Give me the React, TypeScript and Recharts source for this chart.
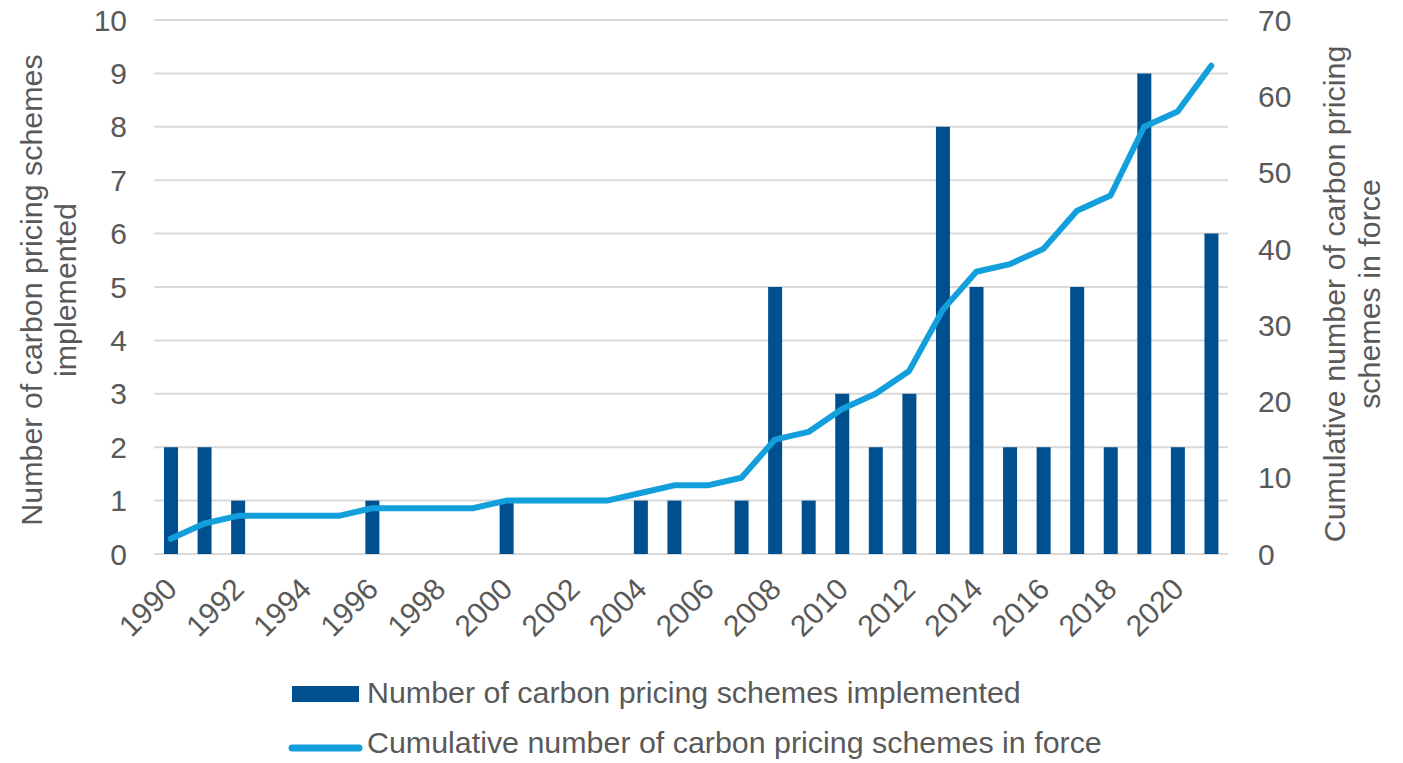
import React from 'react';
import { ComposedChart, Bar, Line, XAxis, YAxis, CartesianGrid } from 'recharts';

// Years on the category axis
const years = [
  '1990', '1991', '1992', '1993', '1994', '1995', '1996', '1997',
  '1998', '1999', '2000', '2001', '2002', '2003', '2004', '2005',
  '2006', '2007', '2008', '2009', '2010', '2011', '2012', '2013',
  '2014', '2015', '2016', '2017', '2018', '2019', '2020', '2021',
];

// Number of carbon pricing schemes implemented each year (left axis)
const schemesImplemented = [
  2, 2, 1, 0, 0, 0, 1, 0,
  0, 0, 1, 0, 0, 0, 1, 1,
  0, 1, 5, 1, 3, 2, 3, 8,
  5, 2, 2, 5, 2, 9, 2, 6,
];

// Cumulative number of carbon pricing schemes in force (right axis)
const schemesInForce = [
  2, 4, 5, 5, 5, 5, 6, 6,
  6, 6, 7, 7, 7, 7, 8, 9,
  9, 10, 15, 16, 19, 21, 24, 32,
  37, 38, 40, 45, 47, 56, 58, 64,
];

const leftTicks = [0, 1, 2, 3, 4, 5, 6, 7, 8, 9, 10];
const rightTicks = [0, 10, 20, 30, 40, 50, 60, 70];

const leftTitle = ['Number of carbon pricing schemes', 'implemented'];
const rightTitle = ['Cumulative number of carbon pricing', 'schemes in force'];
const barLegend = 'Number of carbon pricing schemes implemented';
const lineLegend = 'Cumulative number of carbon pricing schemes in force';

const data = years.map((year, i) => ({
  year,
  implemented: schemesImplemented[i],
  inForce: schemesInForce[i],
}));

const WIDTH = 1403;
const HEIGHT = 763;
const FONT = '"Liberation Sans", Arial, Helvetica, sans-serif';
const TEXT = '#595959';
const BAR = '#00508F';
const LINE = '#139FDB';
const GRID = '#D9D9D9';
const FONT_SIZE = 30;
const LABEL_SIZE = 30.4;

const tickStyle = { fill: TEXT, fontSize: FONT_SIZE, fontFamily: FONT };

function YearTick(props: any) {
  const { x, y, payload } = props;
  return (
    <g transform={`translate(${x + 8},${y + 37}) rotate(-45)`}>
      <text x={0} y={0} textAnchor="end" fill={TEXT} fontSize={FONT_SIZE} fontFamily={FONT}>
        {payload.value}
      </text>
    </g>
  );
}

function Overlay() {
  return (
    <svg
      width={WIDTH}
      height={HEIGHT}
      style={{ position: 'absolute', left: 0, top: 0, pointerEvents: 'none' }}
    >
      <g fontFamily={FONT} fontSize={LABEL_SIZE} fill={TEXT}>
        {/* left axis title */}
        <text transform="translate(42,290) rotate(-90)" textAnchor="middle">
          <tspan x={0} y={0}>{leftTitle[0]}</tspan>
          <tspan x={0} y={34}>{leftTitle[1]}</tspan>
        </text>
        {/* right axis title */}
        <text transform="translate(1345,294) rotate(-90)" textAnchor="middle">
          <tspan x={0} y={0}>{rightTitle[0]}</tspan>
          <tspan x={0} y={35}>{rightTitle[1]}</tspan>
        </text>
        {/* legend */}
        <rect x={292} y={686} width={67} height={16} fill={BAR} />
        <text x={367} y={703}>{barLegend}</text>
        <line x1={292} y1={748} x2={359} y2={748} stroke={LINE} strokeWidth={7} strokeLinecap="round" />
        <text x={367} y={753}>{lineLegend}</text>
      </g>
    </svg>
  );
}

export default function App() {
  return (
    <div style={{ position: 'absolute', left: 0, top: 0, width: WIDTH, height: HEIGHT, background: '#fff' }}>
      <ComposedChart
        width={WIDTH}
        height={HEIGHT}
        data={data}
        margin={{ top: 20, right: 0, bottom: 0, left: 0 }}
      >
        <CartesianGrid yAxisId="left" vertical={false} stroke={GRID} strokeWidth={2} />
        <XAxis
          dataKey="year"
          interval={1}
          height={209}
          tickLine={false}
          axisLine={false}
          tickSize={0}
          tickMargin={0}
          tick={<YearTick />}
        />
        <YAxis
          yAxisId="left"
          orientation="left"
          width={154}
          domain={[0, 10]}
          ticks={leftTicks}
          interval={0}
          tickLine={false}
          axisLine={false}
          tickSize={0}
          tickMargin={27}
          tick={tickStyle}
        />
        <YAxis
          yAxisId="right"
          orientation="right"
          width={175}
          domain={[0, 70]}
          ticks={rightTicks}
          interval={0}
          tickLine={false}
          axisLine={false}
          tickSize={0}
          tickMargin={30}
          tick={tickStyle}
        />
        <Bar
          yAxisId="left"
          dataKey="implemented"
          fill={BAR}
          barSize={14}
          isAnimationActive={false}
        />
        <Line
          yAxisId="right"
          dataKey="inForce"
          type="linear"
          stroke={LINE}
          strokeWidth={6}
          strokeLinejoin="round"
          strokeLinecap="round"
          dot={false}
          activeDot={false}
          isAnimationActive={false}
        />
      </ComposedChart>
      <Overlay />
    </div>
  );
}
